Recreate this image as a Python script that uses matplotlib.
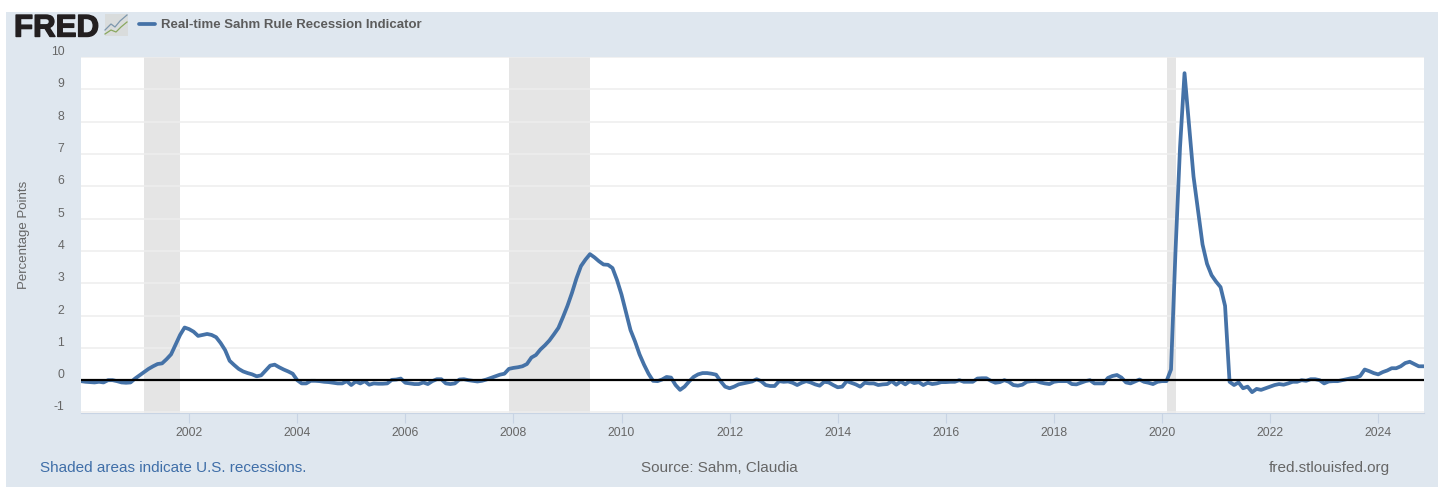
import numpy as np
import matplotlib
matplotlib.use("Agg")
import matplotlib.pyplot as plt
import matplotlib.patheffects as pe
from matplotlib.patches import Rectangle
from matplotlib.lines import Line2D
from matplotlib.transforms import ScaledTranslation

plt.rcParams['font.family'] = ['Liberation Sans', 'DejaVu Sans']

SERIES_NAME = "Real-time Sahm Rule Recession Indicator"
Y_LABEL = "Percentage Points"
START_YEAR = 2000

values_2000 = [-0.03,-0.05,-0.06,-0.07,-0.05,-0.07,0.0,0.0,-0.03,-0.07,-0.08,-0.07]
values_2001 = [0.05,0.15,0.25,0.35,0.43,0.5,0.52,0.65,0.8,1.1,1.4,1.63]
values_2002 = [1.58,1.5,1.37,1.4,1.43,1.4,1.33,1.15,0.93,0.6,0.47,0.35]
values_2003 = [0.27,0.22,0.18,0.12,0.15,0.3,0.45,0.48,0.4,0.33,0.27,0.2]
values_2004 = [0.0,-0.1,-0.1,-0.02,-0.02,-0.03,-0.05,-0.06,-0.08,-0.1,-0.1,-0.03]
values_2005 = [-0.15,-0.04,-0.1,-0.03,-0.14,-0.1,-0.11,-0.11,-0.1,0.01,0.02,0.05]
values_2006 = [-0.08,-0.1,-0.12,-0.12,-0.07,-0.12,-0.03,0.03,0.03,-0.1,-0.12,-0.1]
values_2007 = [0.02,0.03,0.0,-0.02,-0.04,-0.02,0.02,0.07,0.12,0.17,0.2,0.35]
values_2008 = [0.38,0.4,0.43,0.5,0.7,0.78,0.95,1.08,1.23,1.42,1.62,1.95]
values_2009 = [2.3,2.7,3.15,3.53,3.73,3.9,3.8,3.68,3.58,3.57,3.47,3.1]
values_2010 = [2.65,2.1,1.55,1.2,0.8,0.48,0.2,-0.02,-0.03,0.02,0.1,0.08]
values_2011 = [-0.15,-0.3,-0.2,-0.04,0.1,0.18,0.22,0.22,0.2,0.17,-0.03,-0.2]
values_2012 = [-0.25,-0.2,-0.13,-0.1,-0.07,-0.04,0.03,-0.03,-0.15,-0.18,-0.18,-0.03]
values_2013 = [-0.05,-0.04,-0.08,-0.15,-0.08,-0.03,-0.07,-0.13,-0.17,-0.05,-0.07,-0.15]
values_2014 = [-0.22,-0.2,-0.03,-0.08,-0.13,-0.2,-0.08,-0.1,-0.1,-0.15,-0.13,-0.12]
values_2015 = [-0.03,-0.14,-0.04,-0.13,-0.03,-0.09,-0.06,-0.15,-0.08,-0.12,-0.1,-0.06]
values_2016 = [-0.06,-0.05,-0.05,0.0,-0.05,-0.05,-0.05,0.05,0.06,0.06,-0.02,-0.08]
values_2017 = [-0.06,0.0,-0.05,-0.15,-0.17,-0.14,-0.05,-0.03,-0.02,-0.07,-0.1,-0.12]
values_2018 = [-0.05,-0.03,-0.03,-0.03,-0.12,-0.13,-0.08,-0.03,0.0,-0.1,-0.1,-0.1]
values_2019 = [0.07,0.13,0.16,0.08,-0.07,-0.1,-0.04,0.02,-0.05,-0.08,-0.12,-0.05]
values_2020 = [-0.03,-0.03,0.33,4.0,7.2,9.5,7.9,6.3,5.25,4.2,3.6,3.25]
values_2021 = [3.05,2.88,2.3,-0.05,-0.15,-0.07,-0.25,-0.2,-0.37,-0.27,-0.3,-0.25]
values_2022 = [-0.2,-0.15,-0.12,-0.14,-0.1,-0.05,-0.05,0.0,-0.02,0.03,0.03,0.0]
values_2023 = [-0.1,-0.04,-0.03,-0.03,0.0,0.03,0.06,0.08,0.13,0.33,0.28,0.22]
values_2024 = [0.18,0.25,0.3,0.37,0.37,0.43,0.53,0.57,0.5,0.43,0.43]

values = (values_2000 + values_2001 + values_2002 + values_2003 + values_2004 +
          values_2005 + values_2006 + values_2007 + values_2008 + values_2009 +
          values_2010 + values_2011 + values_2012 + values_2013 + values_2014 +
          values_2015 + values_2016 + values_2017 + values_2018 + values_2019 +
          values_2020 + values_2021 + values_2022 + values_2023 + values_2024)

recession_starts = [2001 + 2/12, 2007 + 11/12, 2020 + 1/12]
recession_ends = [2001 + 10/12, 2009 + 5/12, 2020 + 3/12]
x_ticks = list(range(2002, 2025, 2))
y_ticks = list(range(-1, 11))

W, H = 1438, 487
PANEL = '#dfe7ef'
LINE = '#4572a7'
TXT = '#666666'

fig = plt.figure(figsize=(W/100, H/100), dpi=100, facecolor='white')
fig.add_artist(Rectangle((6/W, 0), 1 - 6/W, 1 - 11.5/H, transform=fig.transFigure,
                         facecolor=PANEL, edgecolor='none', zorder=-5))

ax = fig.add_axes([81/W, 1 - 412.5/H, (1424-81)/W, (412.5-57)/H], facecolor='white')
x = START_YEAR + np.arange(len(values)) / 12

for s, e in zip(recession_starts, recession_ends):
    ax.axvspan(s, e, facecolor='#e5e5e5', edgecolor='none', zorder=1)
ax.set_axisbelow(False)
ax.yaxis.grid(True, color='#eeeeee', lw=1.1, zorder=0)
ax.xaxis.grid(False)
for gl in ax.get_ygridlines():
    gl.set_zorder(0.5)
ax.plot(x, values, color=LINE, lw=2.7, zorder=3, solid_joinstyle='round')
ax.axhline(0, color='black', lw=1.6, zorder=4)

ax.set_xlim(2000, 2000 + (1424-81)/54.05)
ax.set_ylim(-1, 10)
ax.set_xticks(x_ticks)
ax.set_xticklabels([str(t) for t in x_ticks])
ax.set_yticks(y_ticks)
ax.set_yticklabels([str(t) for t in y_ticks], va='bottom')
ax.tick_params(axis='x', length=7.5, width=0.8, color='#c8d4e4', labelsize=8.8, labelcolor=TXT, pad=3)
ax.tick_params(axis='y', length=0, labelsize=8.8, labelcolor=TXT, pad=12)
shift = ScaledTranslation(0, -1/100, fig.dpi_scale_trans)
for lab in ax.get_yticklabels():
    lab.set_transform(lab.get_transform() + shift)
for sp in ['top', 'right', 'left']:
    ax.spines[sp].set_visible(False)
ax.spines['bottom'].set_color('#c8d4e4')
ax.spines['bottom'].set_linewidth(0.8)

def fx(p): return p / W
def fy(p): return 1 - p / H

fig.text(fx(24.5), fy(235), Y_LABEL, rotation=90, ha='center', va='center', fontsize=9.5, color=TXT)

# Header: logo and legend
fig.text(fx(14), fy(36.5), "FRED", fontsize=22.5, fontweight='bold', color='#231f20', ha='left',
         va='baseline', path_effects=[pe.withStroke(linewidth=1.0, foreground='#231f20')])
fig.add_artist(Rectangle((fx(104.5), fy(35.5)), 23.5/W, 21/H, transform=fig.transFigure,
                         facecolor='#d9dcdc', edgecolor='none'))
fig.add_artist(Line2D([fx(105), fx(111), fx(115), fx(120), fx(127)],
                      [fy(30), fy(24), fy(27), fy(21), fy(15)],
                      transform=fig.transFigure, color='#7d97ad', lw=0.9))
fig.add_artist(Line2D([fx(105), fx(111), fx(116), fx(121), fx(127)],
                      [fy(34), fy(30), fy(32), fy(27), fy(22)],
                      transform=fig.transFigure, color='#8aa85f', lw=0.9))
fig.add_artist(Line2D([fx(139), fx(155)], [fy(23.5), fy(23.5)],
                      transform=fig.transFigure, color=LINE, lw=2.7, solid_capstyle='round'))
fig.text(fx(161), fy(24.5), SERIES_NAME, fontsize=9.55, fontweight='bold', color='#5c5c5c',
         ha='left', va='center')

# Footer
fig.text(fx(40), fy(468), "Shaded areas indicate U.S. recessions.", fontsize=11.0, color='#3f6ea8',
         ha='left', va='center')
fig.text(fx(719), fy(468), "Source: Sahm, Claudia", fontsize=10.95, color=TXT, ha='center', va='center')
fig.text(fx(1390), fy(468), "fred.stlouisfed.org", fontsize=10.95, color=TXT, ha='right', va='center')

fig.savefig('out.png', dpi=100, facecolor='white')
